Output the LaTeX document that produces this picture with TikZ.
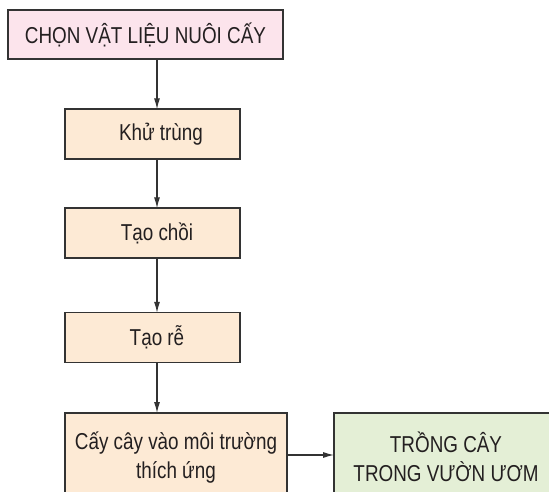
\documentclass[tikz,border=0pt]{standalone}
\usepackage{fontspec}
\setmainfont{Liberation Sans}[FakeStretch=0.82]
\usetikzlibrary{arrows.meta,backgrounds}
\definecolor{pinkfill}{HTML}{FCE4EC}
\definecolor{beigefill}{HTML}{FDEAD5}
\definecolor{greenfill}{HTML}{E4EFD6}
\definecolor{edge}{HTML}{333333}
\definecolor{ink}{HTML}{231F20}
\begin{document}
\begin{tikzpicture}[x=1pt,y=1pt,
  box/.style={draw=edge, line width=1.3pt, text=ink, font=\fontsize{23}{27}\selectfont, inner sep=0pt},
  stepbox/.style={box, fill=beigefill, minimum width=175pt, minimum height=50pt},
  twoline/.style={text=ink, font=\fontsize{23}{29}\selectfont, align=center, anchor=north, inner sep=0pt},
  conn/.style={draw=edge, line width=1.2pt, -{Latex[length=11pt,width=6pt]}}
]
\useasboundingbox (0,0) rectangle (549,-492);
\clip (0,0) rectangle (549,-492);

\node[box, fill=pinkfill, minimum width=275pt, minimum height=49pt] (chon) at (145.5,-34.5) {CHỌN VẬT LIỆU NUÔI CẤY};
\node[stepbox] (khu) at (152.5,-134) {\hspace*{17pt}Khử trùng};
\node[stepbox] (choi) at (152.5,-233) {\hspace*{9pt}Tạo chồi};
\node[stepbox] (re) at (152.5,-337.5) {\hspace*{9pt}Tạo rễ};

\node[twoline] (cay) at (176,-432) {Cấy cây vào môi trường\\thích ứng};
\node[twoline] (trong) at (446,-432) {TRỒNG CÂY\\TRONG VƯỜN ƯƠM};

\begin{scope}[on background layer]
  \fill[white] (0,0) rectangle (549,-492);
  \draw[draw=edge, line width=1.3pt, fill=beigefill] (65,-413) coordinate (caynw) rectangle (287,-520) coordinate (cayse);
  \draw[draw=edge, line width=1.3pt, fill=greenfill] (334,-413) coordinate (trongnw) rectangle (580,-520) coordinate (trongse);
\end{scope}

\coordinate (ax) at (157,0);
\coordinate (cayE) at (287,-455);
\coordinate (trongW) at (334,-455);

\draw[conn] (chon.south -| ax) -- ([yshift=-1pt]khu.north -| ax);
\draw[conn] (khu.south -| ax) -- ([yshift=-1pt]choi.north -| ax);
\draw[conn] (choi.south -| ax) -- ([yshift=-1pt]re.north -| ax);
\draw[conn] (re.south -| ax) -- (caynw -| ax);
\draw[conn] (cayE) -- (trongW);
\end{tikzpicture}
\end{document}
